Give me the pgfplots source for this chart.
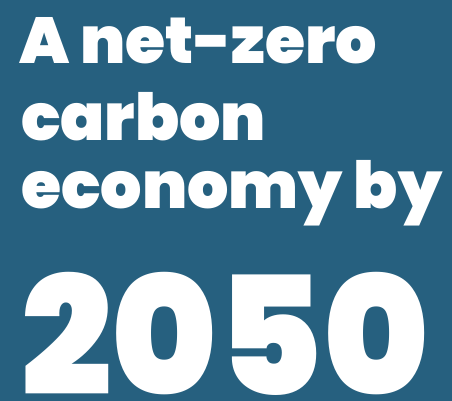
\documentclass[border=0pt]{standalone}
\usepackage{pgfplots}
\pgfplotsset{compat=1.18}
\usepackage{fontspec}
\setmainfont{Poppins}[BoldFont={Poppins Black}]
\definecolor{bg}{HTML}{26607F}
\begin{document}
\begin{tikzpicture}
\begin{axis}[
  scale only axis, width=452bp, height=401bp,
  xmin=0, xmax=452, ymin=0, ymax=401, y dir=reverse,
  hide axis, clip=false,
]
\addplot[draw=none, fill=bg] coordinates {(0,0) (452,0) (452,401) (0,401)} -- cycle;
\node[anchor=base west, inner sep=0pt, text=white, font=\fontsize{65bp}{65bp}\selectfont\bfseries] at (axis cs:19,63) {A net-zero};
\node[anchor=base west, inner sep=0pt, text=white, font=\fontsize{65bp}{65bp}\selectfont\bfseries] at (axis cs:21,140) {carbon};
\node[anchor=base west, inner sep=0pt, text=white, font=\fontsize{65bp}{65bp}\selectfont\bfseries] at (axis cs:21,208) {economy by};
\node[anchor=base west, inner sep=0pt, text=white, xscale=0.97, font=\fontsize{165bp}{165bp}\selectfont\bfseries] at (axis cs:21,395) {2050};
\end{axis}
\pgfresetboundingbox
\path[use as bounding box] (current axis.south west) rectangle (current axis.north east);
\end{tikzpicture}
\end{document}
